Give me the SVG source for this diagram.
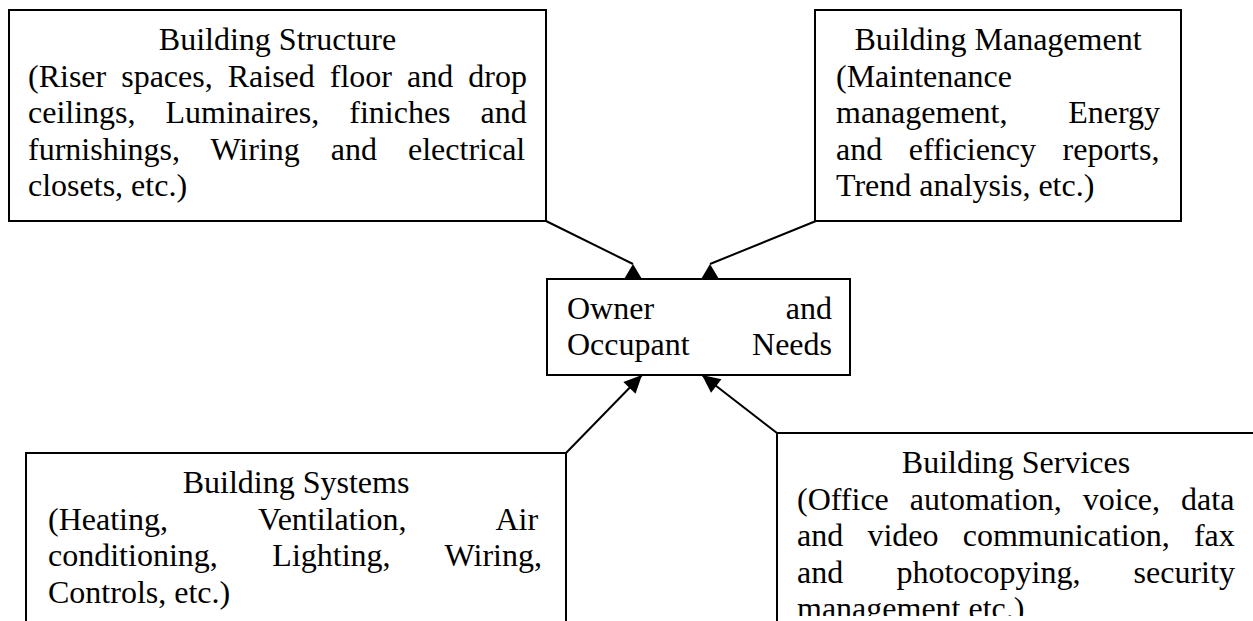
<svg xmlns="http://www.w3.org/2000/svg" width="1253" height="621" viewBox="0 0 1253 621">
<style>
.box{fill:#fff;stroke:#000;stroke-width:2}
.t{font-family:"Liberation Serif","Times New Roman",serif;font-size:32px;fill:#000}
.c{text-anchor:middle}
.e{text-anchor:end}
.ln{stroke:#000;stroke-width:2;fill:none}
</style>
<defs>
<marker id="head" markerUnits="userSpaceOnUse" markerWidth="20" markerHeight="18" refX="18" refY="8.5" orient="auto" overflow="visible">
<path d="M0,0 L18,8.5 L0,17 z" fill="#000"/>
</marker>
<marker id="headUp" markerUnits="userSpaceOnUse" markerWidth="20" markerHeight="17" refX="9.5" refY="0" orient="0" overflow="visible">
<path d="M9.5,0 L19,16 L0,16 z" fill="#000"/>
</marker>
<clipPath id="clip4"><rect x="777" y="433" width="480" height="183"/></clipPath>
</defs>
<g id="connectors">
<line class="ln" x1="546" y1="221" x2="633" y2="264" marker-end="url(#headUp)"/>
<line class="ln" x1="816" y1="221" x2="710" y2="264" marker-end="url(#headUp)"/>
<line class="ln" x1="566" y1="453" x2="642" y2="375" marker-end="url(#head)"/>
<line class="ln" x1="777" y1="433" x2="702" y2="375" marker-end="url(#head)"/>
</g>
<g id="building-structure">
<rect class="box" x="9" y="10" width="537" height="211"/>
<text class="t c" x="277.5" y="50">Building Structure</text>
<text class="t" x="28" y="86.6" word-spacing="7">(Riser spaces, Raised floor and drop</text>
<text class="t" x="28" y="123.2" word-spacing="22">ceilings, Luminaires, finiches and</text>
<text class="t" x="28" y="159.8" word-spacing="23">furnishings, Wiring and electrical</text>
<text class="t" x="28" y="196.4">closets, etc.)</text>
</g>
<g id="building-management">
<rect class="box" x="815" y="10" width="366" height="211"/>
<text class="t c" x="998" y="50">Building Management</text>
<text class="t" x="836" y="86.6">(Maintenance</text>
<text class="t" x="836" y="123.2">management,</text>
<text class="t e" x="1160" y="123.2">Energy</text>
<text class="t" x="836" y="159.8" word-spacing="18.5">and efficiency reports,</text>
<text class="t" x="836" y="196.4">Trend analysis, etc.)</text>
</g>
<g id="owner-needs">
<rect class="box" x="547" y="279" width="303" height="96"/>
<text class="t" x="567" y="319">Owner</text>
<text class="t e" x="832" y="319">and</text>
<text class="t" x="567" y="355">Occupant</text>
<text class="t e" x="832" y="355">Needs</text>
</g>
<g id="building-systems">
<rect class="box" x="26" y="453" width="540" height="200"/>
<text class="t c" x="296" y="493">Building Systems</text>
<text class="t" x="48" y="529.6" word-spacing="82.7">(Heating, Ventilation, Air</text>
<text class="t" x="48" y="566.2" word-spacing="46.6">conditioning, Lighting, Wiring,</text>
<text class="t" x="48" y="602.8">Controls, etc.)</text>
</g>
<g id="building-services">
<rect class="box" x="777" y="433" width="480" height="200"/>
<g clip-path="url(#clip4)">
<text class="t c" x="1016" y="473">Building Services</text>
<text class="t" x="797" y="509.6" word-spacing="13">(Office automation, voice, data</text>
<text class="t" x="797" y="546.2" word-spacing="16.2">and video communication, fax</text>
<text class="t" x="797" y="582.8" word-spacing="45.2">and photocopying, security</text>
<text class="t" x="797" y="619.4">management etc.)</text>
</g>
</g>
</svg>
